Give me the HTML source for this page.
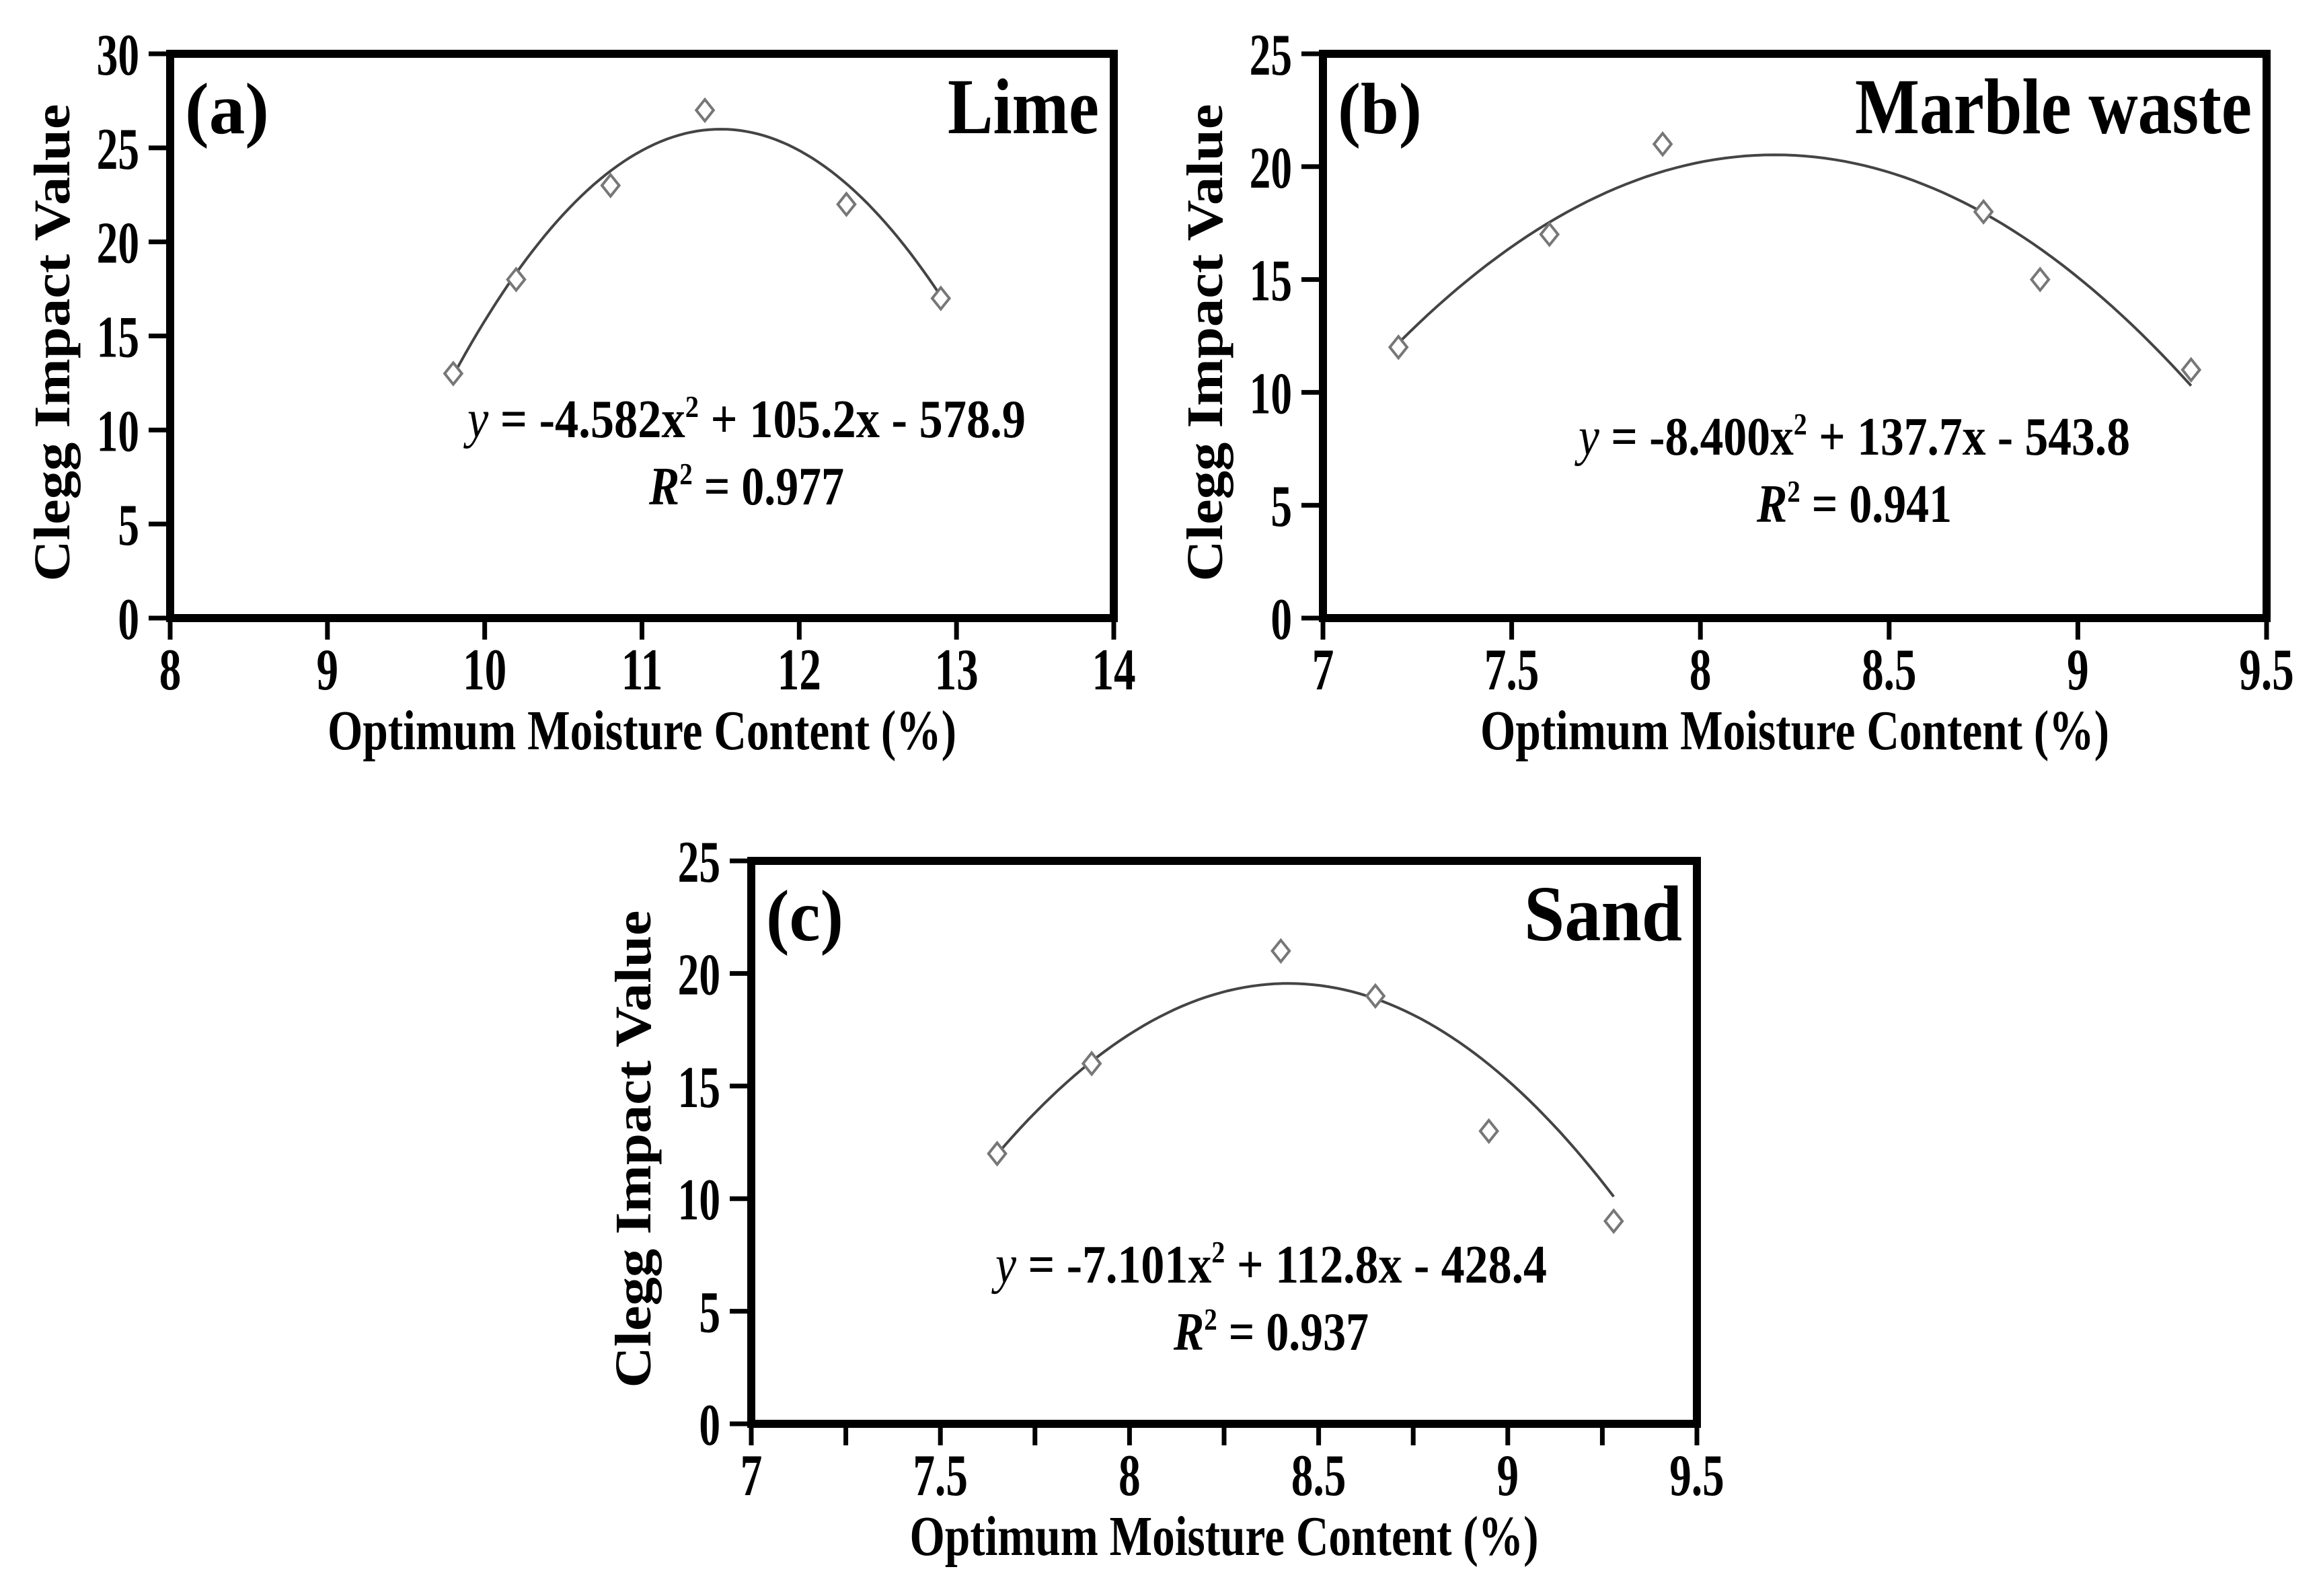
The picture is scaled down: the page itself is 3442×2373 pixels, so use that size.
<!DOCTYPE html>
<html><head><meta charset="utf-8"><style>
html,body{margin:0;padding:0;background:#fff;}
svg{display:block;font-family:"Liberation Serif",serif;font-weight:bold;}
</style></head><body>
<svg id="fig" width="3442" height="2373" viewBox="0 0 3442 2373" xmlns="http://www.w3.org/2000/svg"></svg>
<script>
// ---- data ----
const limeX = [9.8, 10.2, 10.8, 11.4, 12.3, 12.9];
const limeY = [13, 18, 23, 27, 22, 17];
const limeFit = [-4.53, 104.19, -573.1];
const marbleX = [7.2, 7.6, 7.9, 8.75, 8.9, 9.3];
const marbleY = [12, 17, 21, 18, 15, 11];
const marbleFit = [-8.400, 137.7, -543.8];
const sandX = [7.65, 7.9, 8.4, 8.65, 8.95, 9.28];
const sandY = [12, 16, 21, 19, 13, 9];
const sandFit = [-12.8, 215.55, -887.9];
const limeXTicks = [8, 9, 10, 11, 12, 13, 14];
const limeYTicks = [0, 5, 10, 15, 20, 25, 30];
const marbleXTicks = [7, 7.5, 8, 8.5, 9, 9.5];
const marbleYTicks = [0, 5, 10, 15, 20, 25];
const sandXTicks = [7, 7.5, 8, 8.5, 9, 9.5];
const sandXMinor = [7.25, 7.75, 8.25, 8.75, 9.25];
const sandYTicks = [0, 5, 10, 15, 20, 25];
const eqLime = ["-4.582", "105.2", "578.9", "0.977"];
const eqMarble = ["-8.400", "137.7", "543.8", "0.941"];
const eqSand = ["-7.101", "112.8", "428.4", "0.937"];

const NS = "http://www.w3.org/2000/svg";
const svg = document.getElementById('fig');
function mk(tag, attrs, parent, txt) {
  const e = document.createElementNS(NS, tag);
  for (const k in attrs) e.setAttribute(k, attrs[k]);
  if (txt !== undefined) e.textContent = txt;
  (parent || svg).appendChild(e);
  return e;
}

function panel(o) {
  const g = mk('g', {});
  
  
  const sx = v => o.L + (v - o.xmin) / (o.xmax - o.xmin) * (o.R - o.L);
  const sy = v => o.B - (v - o.ymin) / (o.ymax - o.ymin) * (o.B - o.T);
  const fr = mk('rect', {x: o.L, y: o.T, width: o.R - o.L, height: o.B - o.T, fill: 'none', stroke: '#000', 'stroke-width': 12}, g);
  
  
  o.xt.forEach(v => {
    const t = mk('line', {x1: sx(v), x2: sx(v), y1: o.B, y2: o.B + 32, stroke: '#000', 'stroke-width': 7}, g);
    
    
    const l = mk('text', {x: 0, y: 0, 'font-size': 88, 'text-anchor': 'middle', transform: `translate(${sx(v)},${o.B + 106}) scale(0.74,1)`}, g, String(v));
    
    
  });
  (o.xminor || []).forEach(v => {
    const t = mk('line', {x1: sx(v), x2: sx(v), y1: o.B, y2: o.B + 32, stroke: '#000', 'stroke-width': 7}, g);
    
    
  });
  o.yt.forEach(v => {
    const t = mk('line', {x1: o.L - 32, x2: o.L, y1: sy(v), y2: sy(v), stroke: '#000', 'stroke-width': 7}, g);
    
    
    const l = mk('text', {x: 0, y: 0, 'font-size': 88, 'text-anchor': 'end', transform: `translate(${o.L - 46},${sy(v) + 31}) scale(0.72,1)`}, g, String(v));
    
    
  });
  const c = o.fit;
  const x0 = Math.min(...o.xs), x1 = Math.max(...o.xs);
  let d = '';
  for (let i = 0; i <= 80; i++) {
    const x = x0 + (x1 - x0) * i / 80;
    const y = c[0] * x * x + c[1] * x + c[2];
    d += (i ? 'L' : 'M') + sx(x).toFixed(1) + ',' + sy(y).toFixed(1);
  }
  const p = mk('path', {d: d, fill: 'none', stroke: '#444', 'stroke-width': 4}, g);
  
  
  o.xs.forEach((x, i) => {
    const X = sx(x), Y = sy(o.ys[i]), r = 16;
    const m = mk('path', {d: `M${X},${Y - r}L${X + r * 0.8},${Y}L${X},${Y + r}L${X - r * 0.8},${Y}Z`, fill: '#fff', stroke: '#777', 'stroke-width': 4}, g);
    
    
  });
  const pl = mk('text', {x: o.L + 22, y: o.T + 118, 'font-size': 108, textLength: o.tagLen, lengthAdjust: 'spacingAndGlyphs'}, g, o.tag);
  
  
  const mt = mk('text', {x: o.R - 22, y: o.T + 118, 'font-size': 118, 'text-anchor': 'end', textLength: o.matLen, lengthAdjust: 'spacingAndGlyphs'}, g, o.mat);
  
  
  const e = o.eq;
  const eqt = mk('text', {x: o.ex, y: o.ey, 'font-size': 80, 'text-anchor': 'middle', textLength: o.eqLen, lengthAdjust: 'spacingAndGlyphs'}, g);
  
  
  mk('tspan', {'font-style': 'italic', 'font-weight': 'normal'}, eqt, 'y');
  mk('tspan', {}, eqt, ' = ' + e[0] + 'x');
  mk('tspan', {'font-size': 46, dy: -30}, eqt, '2');
  mk('tspan', {dy: 30}, eqt, ' + ' + e[1] + 'x - ' + e[2]);
  const rt = mk('text', {x: o.ex, y: o.ey + 100, 'font-size': 80, 'text-anchor': 'middle', textLength: 290, lengthAdjust: 'spacingAndGlyphs'}, g);
  
  
  mk('tspan', {'font-style': 'italic'}, rt, 'R');
  mk('tspan', {'font-size': 46, dy: -30}, rt, '2');
  mk('tspan', {dy: 30}, rt, ' = ' + e[3]);
  const xt = mk('text', {x: (o.L + o.R) / 2, y: o.B + 195, 'font-size': 84, 'text-anchor': 'middle', textLength: 935, lengthAdjust: 'spacingAndGlyphs'}, g, 'Optimum Moisture Content (%)');
  
  
  const cy = (o.T + o.B) / 2 + 10;
  const yt = mk('text', {x: 0, y: 0, 'font-size': 76, 'text-anchor': 'middle', textLength: 710, lengthAdjust: 'spacingAndGlyphs', transform: `translate(${o.L - 150},${cy}) rotate(-90)`}, g, 'Clegg Impact Value');
  
  
}

panel({name: 'panel-a-lime', L: 253, R: 1656, T: 80, B: 919, xmin: 8, xmax: 14, ymin: 0, ymax: 30,
  xt: limeXTicks, yt: limeYTicks, xs: limeX, ys: limeY, fit: limeFit, tag: '(a)', tagLen: 125, mat: 'Lime', matLen: 225,
  eq: eqLime, ex: 1110, ey: 650, eqLen: 830});
panel({name: 'panel-b-marble-waste', L: 1967, R: 3370, T: 80, B: 919, xmin: 7, xmax: 9.5, ymin: 0, ymax: 25,
  xt: marbleXTicks, yt: marbleYTicks, xs: marbleX, ys: marbleY, fit: marbleFit, tag: '(b)', tagLen: 125, mat: 'Marble waste', matLen: 590,
  eq: eqMarble, ex: 2757, ey: 676, eqLen: 820});
panel({name: 'panel-c-sand', L: 1117, R: 2523, T: 1280, B: 2117, xmin: 7, xmax: 9.5, ymin: 0, ymax: 25,
  xt: sandXTicks, xminor: sandXMinor, yt: sandYTicks, xs: sandX, ys: sandY, fit: sandFit, tag: '(c)', tagLen: 115, mat: 'Sand', matLen: 235,
  eq: eqSand, ex: 1890, ey: 1907, eqLen: 820});
</script>
</body></html>
